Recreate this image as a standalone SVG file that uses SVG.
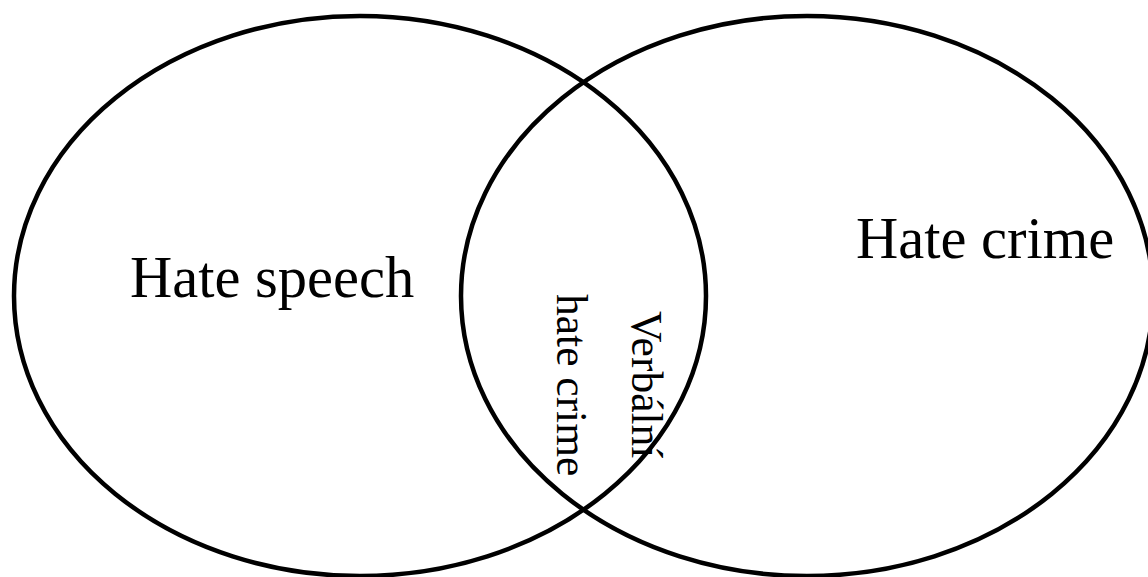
<svg xmlns="http://www.w3.org/2000/svg" width="1148" height="577" viewBox="0 0 1148 577">
<style>
.set{fill:none;stroke:#000;stroke-width:4.5}
.lbl{font-family:"Liberation Serif","Times New Roman",serif;fill:#000}
.big{font-size:58.5px}
.small{font-size:43.5px}
</style>
<rect width="1148" height="577" fill="#fff"/>
<g id="hate-speech">
<ellipse class="set" cx="360" cy="296" rx="346" ry="280"/>
<text class="lbl big" x="130" y="297">Hate speech</text>
</g>
<g id="hate-crime">
<ellipse class="set" cx="807" cy="296" rx="346" ry="280"/>
<text class="lbl big" x="856" y="258">Hate crime</text>
</g>
<g id="verbal-hate-crime">
<text class="lbl small" transform="translate(632,311) rotate(90)">Verbální</text>
<text class="lbl small" transform="translate(557,294) rotate(90)">hate crime</text>
</g>
<g id="connectors"/>
</svg>
